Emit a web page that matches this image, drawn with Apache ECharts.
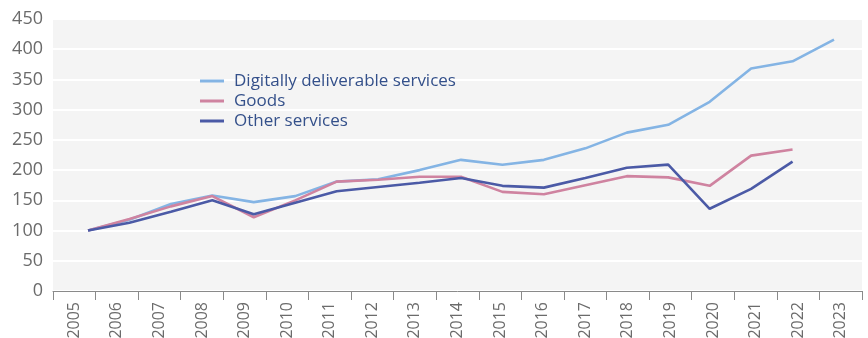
<!DOCTYPE html>
<html>
<head>
<meta charset="utf-8">
<script src="https://cdn.jsdelivr.net/npm/echarts@6/dist/echarts.min.js"></script>
<style>
  html, body { margin: 0; padding: 0; background: #ffffff; }
  #chart { width: 868px; height: 338px; }
</style>
</head>
<body>
<div id="chart"></div>
<script>
// Index values, 2005 = 100
const years = ['2005','2006','2007','2008','2009','2010','2011','2012','2013','2014',
               '2015','2016','2017','2018','2019','2020','2021','2022','2023'];
const digital = [100, 118, 144, 158, 147, 157, 181, 185, 200, 217, 209, 217, 236, 262, 275, 313, 368, 380, 416];
const goods   = [100, 119, 140, 157, 122, 150, 181, 184, 189, 189, 164, 160, 175, 190, 188, 174, 224, 234, null];
const other   = [100, 113, 131, 150, 127, 146, 165, 172, 179, 187, 174, 171, 187, 204, 209, 136, 169, 214, null];
const yTicks  = [0, 450, 50];   // min, max, step

const FONT = '"Open Sans", Lato, sans-serif';
const chart = echarts.init(document.getElementById('chart'), null, { renderer: 'canvas' });

const lineSeries = (name, data, color) => ({
  name, type: 'line', data,
  xAxisIndex: 1, yAxisIndex: 1,
  symbol: 'none', connectNulls: false,
  lineStyle: { color, width: 2.6 },
  itemStyle: { color },
  z: 3
});

chart.setOption({
  animation: false,
  textStyle: { fontFamily: FONT },
  grid: [
    { left: 53, right: 6, top: 19, bottom: 47, outerBoundsMode: 'none', containLabel: false,
      show: true, backgroundColor: '#f4f4f4', borderWidth: 0 },
    { left: 88, right: 34, top: 19, bottom: 47, outerBoundsMode: 'none', containLabel: false }
  ],
  legend: {
    orient: 'vertical', left: 200, top: 71, padding: 0,
    itemWidth: 24, itemHeight: 3, itemGap: 0,
    icon: 'rect',
    textStyle: { fontFamily: FONT, fontSize: 17, color: '#34508a', lineHeight: 20, padding: [0, 0, 0, 5] },
    data: ['Digitally deliverable services', 'Goods', 'Other services']
  },
  xAxis: [
    {
      type: 'category', gridIndex: 0, data: years, boundaryGap: true,
      axisLine: { show: true, lineStyle: { color: '#8a8a8a', width: 1 } },
      axisTick: { show: true, length: 9, lineStyle: { color: '#8a8a8a' } },
      axisLabel: { rotate: 90, margin: 11, fontSize: 16, color: '#6b6b6b', fontFamily: FONT },
      splitLine: { show: false }
    },
    {
      type: 'category', gridIndex: 1, data: years, boundaryGap: false,
      show: false
    }
  ],
  yAxis: [
    {
      type: 'value', gridIndex: 0, min: yTicks[0], max: yTicks[1], interval: yTicks[2],
      axisLine: { show: false }, axisTick: { show: false },
      axisLabel: { fontSize: 18, color: '#6b6b6b', margin: 10, fontFamily: FONT },
      splitLine: { show: true, lineStyle: { color: '#ffffff', width: 2 } }
    },
    {
      type: 'value', gridIndex: 1, min: yTicks[0], max: yTicks[1], interval: yTicks[2],
      show: false, splitLine: { show: false }
    }
  ],
  series: [
    lineSeries('Digitally deliverable services', digital, '#84b4e4'),
    lineSeries('Goods', goods, '#cf83a0'),
    lineSeries('Other services', other, '#4b5aa6')
  ]
});
</script>
</body>
</html>
